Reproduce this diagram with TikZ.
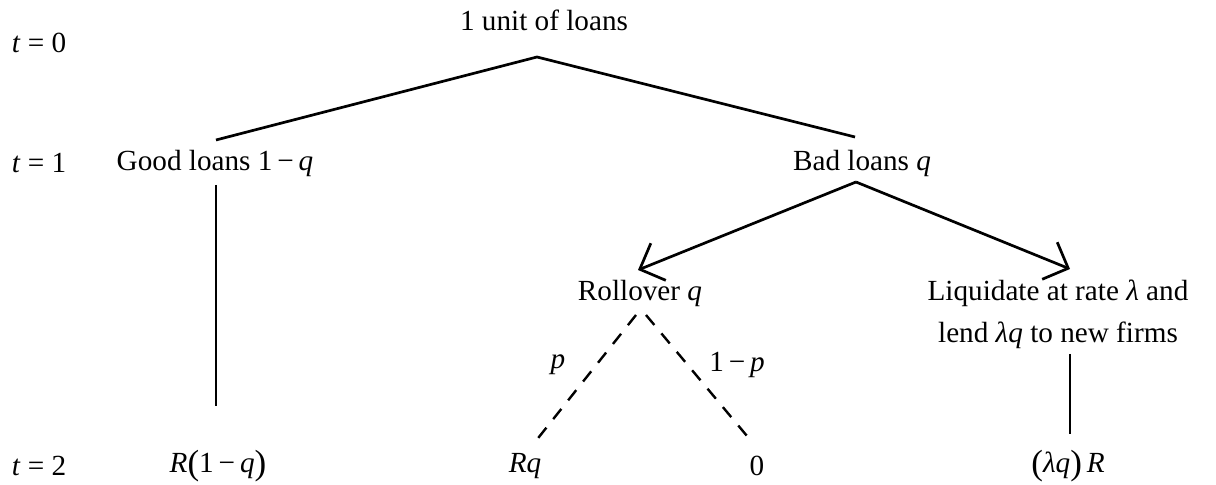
\documentclass[tikz,border=0pt]{standalone}
\usepackage{fontspec}
\setmainfont{Liberation Serif}
\usetikzlibrary{arrows.meta}
\newcommand{\vi}[1]{\textit{#1}}
\newcommand{\mminus}{\,−\,}
\newcommand{\lpar}{\raisebox{-1.2pt}{\fontsize{17.5}{17}\selectfont(}}
\newcommand{\rpar}{\raisebox{-1.2pt}{\fontsize{17.5}{17}\selectfont)}}
\begin{document}
\begin{tikzpicture}[x=0.5pt,y=-0.5pt,
  lbl/.style={inner sep=0pt,font=\fontsize{14.6}{17}\selectfont},
  edge/.style={line width=1.35pt},
  arr/.style={line width=1.35pt,-{Straight Barb[length=10pt,width=20pt,line width=1.35pt]}},
  dsh/.style={line width=1.2pt,dash pattern=on 6.5pt off 5.5pt}]
\useasboundingbox (0,0) rectangle (1216,485);
% time labels
\node[lbl] (t0) at (39,43) {\vi{t} = 0};
\node[lbl] (t1) at (39,163) {\vi{t} = 1};
\node[lbl] (t2) at (39,466) {\vi{t} = 2};
% nodes
\node[lbl] (top) at (544,20) {1 unit of loans};
\node[lbl] (good) at (215,163) {Good loans 1\mminus\vi{q}};
\node[lbl] (bad) at (862,163) {Bad loans \vi{q}};
\node[lbl] (roll) at (640,293) {Rollover \vi{q}};
\node[lbl,align=center] (liq) at (1058,314) {Liquidate at rate \vi{λ} and\\[4pt] lend \vi{λq} to new firms};
\node[lbl] (rgood) at (218,466) {\vi{R}\lpar 1\mminus\vi{q}\rpar};
\node[lbl] (rq) at (525,466) {\vi{Rq}};
\node[lbl] (zero) at (757,466) {0};
\node[lbl] (lqr) at (1068,466) {\lpar\vi{λq}\rpar\,\vi{R}};
\node[lbl] (plbl) at (558,365) {\vi{p}};
\node[lbl] (qlbl) at (737,365) {1\mminus\vi{p}};
% connector points
\coordinate (top-b) at (537,57);
\coordinate (good-t) at (216,140);
\coordinate (bad-t) at (855,137);
\coordinate (good-b) at (216,185);
\coordinate (rgood-t) at (216,406);
\coordinate (bad-b) at (856,182);
\coordinate (roll-t) at (638,270);
\coordinate (liq-t) at (1070,269);
\coordinate (roll-bl) at (636,315);
\coordinate (roll-br) at (646,315);
\coordinate (rq-t) at (535,442);
\coordinate (zero-t) at (752,442);
\coordinate (liq-b) at (1070,354);
\coordinate (lqr-t) at (1070,434);
% connectors
\draw[edge] (good-t) -- (top-b) -- (bad-t);
\draw[edge] (good-b) -- (rgood-t);
\draw[arr] (bad-b) -- (roll-t);
\draw[arr] (bad-b) -- (liq-t);
\draw[dsh] (roll-bl) -- (rq-t);
\draw[dsh] (roll-br) -- (zero-t);
\draw[edge] (liq-b) -- (lqr-t);
\end{tikzpicture}
\end{document}
